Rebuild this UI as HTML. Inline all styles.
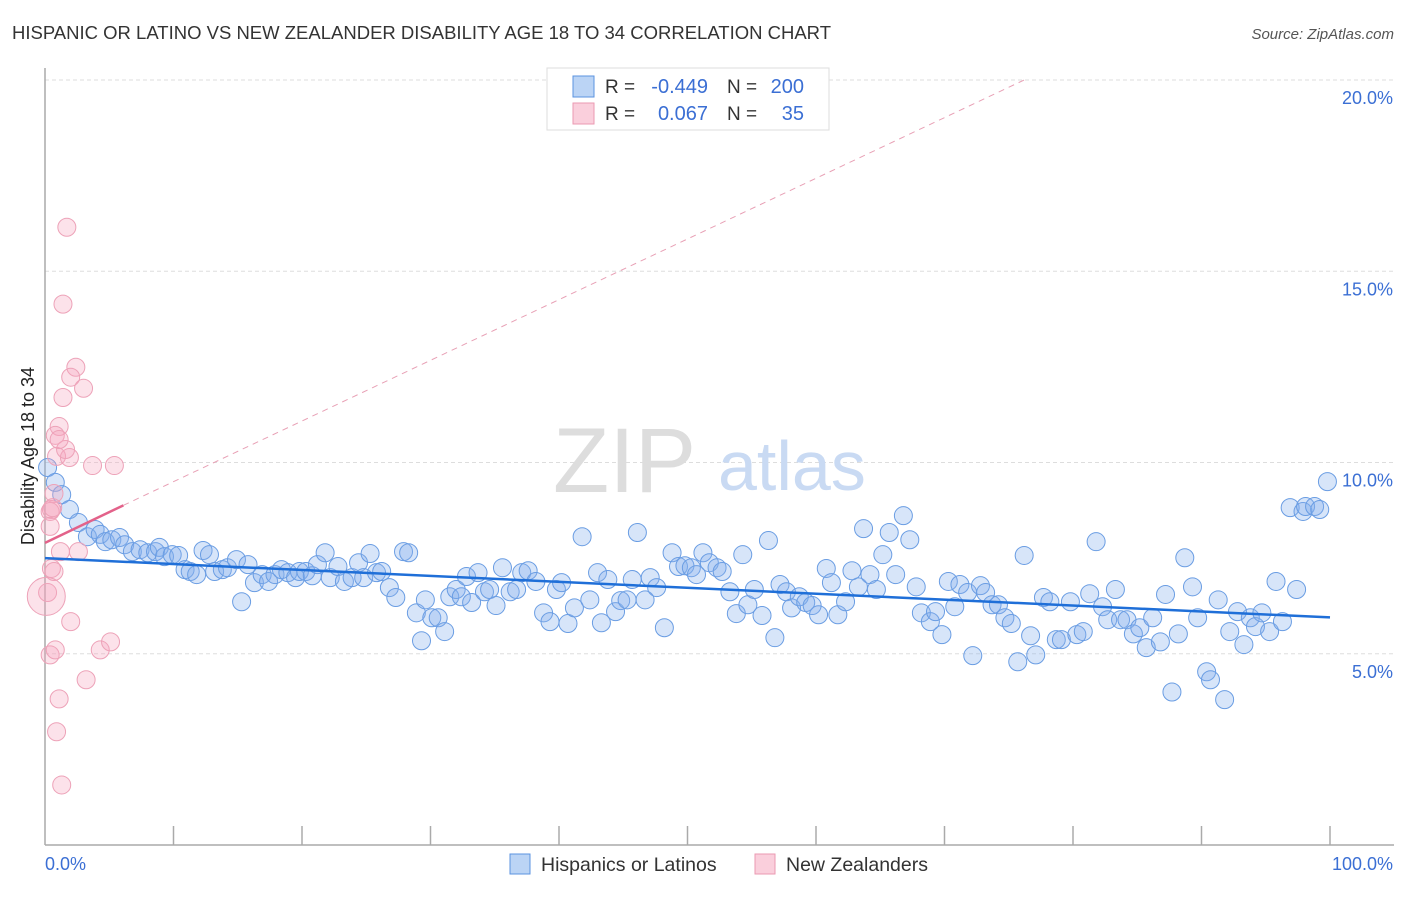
<!DOCTYPE html>
<html><head><meta charset="utf-8"><style>
body{margin:0;background:#fff;font-family:"Liberation Sans",sans-serif;}
svg text{font-family:"Liberation Sans",sans-serif;}
</style></head><body>
<svg width="1406" height="892" viewBox="0 0 1406 892" xmlns="http://www.w3.org/2000/svg">
<g id="root"></g>
</svg>
<script>
const blueX=[0.2,0.8,1.3,1.9,2.6,3.3,3.9,4.3,4.7,5.2,5.8,6.2,6.8,7.4,8.0,8.6,8.9,9.3,9.9,10.4,10.9,11.3,11.8,12.3,12.8,13.2,13.8,14.2,14.9,15.3,15.8,16.3,16.9,17.4,17.9,18.4,18.9,19.5,19.8,20.3,20.8,21.2,21.8,22.2,22.8,23.3,23.9,24.4,24.8,25.3,25.8,26.2,26.8,27.3,27.9,28.3,28.9,29.3,29.6,30.1,30.6,31.1,31.5,32.0,32.4,32.8,33.2,33.7,34.2,34.6,35.1,35.6,36.2,36.7,37.1,37.6,38.2,38.8,39.3,39.8,40.2,40.7,41.2,41.8,42.4,43.0,43.3,43.8,44.4,44.8,45.3,45.7,46.1,46.7,47.1,47.6,48.2,48.8,49.3,49.8,50.3,50.7,51.2,51.7,52.3,52.7,53.3,53.8,54.3,54.7,55.2,55.8,56.3,56.8,57.2,57.7,58.1,58.7,59.2,59.7,60.2,60.8,61.2,61.7,62.3,62.8,63.3,63.7,64.2,64.7,65.2,65.7,66.2,66.8,67.3,67.8,68.2,68.9,69.3,69.8,70.3,70.8,71.2,71.8,72.2,72.8,73.2,73.7,74.2,74.7,75.2,75.7,76.2,76.7,77.1,77.7,78.2,78.7,79.1,79.8,80.3,80.8,81.3,81.8,82.3,82.7,83.3,83.7,84.2,84.7,85.2,85.7,86.2,86.8,87.2,87.7,88.2,88.7,89.3,89.7,90.4,90.7,91.3,91.8,92.2,92.8,93.3,93.8,94.2,94.7,95.3,95.8,96.3,96.9,97.4,97.9,98.1,98.8,99.2,99.8];
const blueY=[9.87,9.48,9.16,8.77,8.43,8.06,8.25,8.12,7.93,7.98,8.04,7.85,7.67,7.72,7.64,7.67,7.78,7.54,7.59,7.57,7.2,7.15,7.07,7.7,7.59,7.15,7.2,7.25,7.46,6.36,7.33,6.86,7.07,6.89,7.07,7.2,7.12,6.99,7.15,7.15,7.04,7.33,7.64,6.99,7.28,6.89,6.99,7.38,6.99,7.62,7.12,7.15,6.73,6.47,7.67,7.64,6.07,5.34,6.41,5.94,5.94,5.58,6.49,6.68,6.49,7.02,6.34,7.12,6.62,6.68,6.26,7.25,6.62,6.68,7.12,7.17,6.89,6.07,5.84,6.68,6.86,5.79,6.2,8.06,6.41,7.12,5.81,6.94,6.1,6.39,6.41,6.94,8.17,6.41,6.99,6.73,5.68,7.64,7.28,7.3,7.25,7.07,7.64,7.38,7.25,7.15,6.62,6.05,7.59,6.28,6.68,6.0,7.96,5.42,6.81,6.62,6.2,6.49,6.34,6.26,6.02,7.23,6.86,6.02,6.36,7.17,6.75,8.27,7.07,6.68,7.59,8.17,7.07,8.61,7.98,6.75,6.07,5.84,6.1,5.5,6.89,6.23,6.81,6.6,4.95,6.78,6.6,6.28,6.28,5.94,5.79,4.79,7.57,5.47,4.97,6.47,6.36,5.37,5.37,6.36,5.5,5.58,6.57,7.93,6.23,5.89,6.68,5.89,5.89,5.52,5.68,5.16,5.94,5.31,6.55,4.0,5.52,7.51,6.75,5.94,4.53,4.32,6.41,3.8,5.58,6.1,5.24,5.94,5.71,6.07,5.58,6.89,5.84,8.82,6.68,8.72,8.85,8.85,8.77,9.5];
const pinkX=[1.7,1.4,2.4,2.0,3.0,1.4,1.1,0.8,0.9,1.9,3.7,5.4,0.7,0.5,0.4,0.4,1.2,2.6,0.5,0.7,0.2,2.0,0.4,0.8,4.3,5.1,3.2,1.1,0.9,1.3,1.6,1.1,0.6,0.1];
const pinkY=[16.15,14.14,12.49,12.23,11.94,11.7,10.94,10.71,10.16,10.13,9.92,9.92,9.19,8.77,8.72,8.33,7.67,7.67,7.23,7.15,6.6,5.84,4.97,5.1,5.1,5.31,4.32,3.82,2.96,1.57,10.34,10.6,8.82,6.5];
const pinkR=[9,9,9,9,9,9,9,9,9,9,9,9,9,9,9,9,9,9,9,9,9,9,9,9,9,9,9,9,9,9,9,9,9,19];
const yTicks=[5,10,15,20];
const yTickLabels=["5.0%","10.0%","15.0%","20.0%"];
const xTicks=[0,10,20,30,40,50,60,70,80,90,100];
const blueTrend=[7.5,5.95];
const pinkTrend=[7.9,8.88,20.0];
const pinkTrendX=[0,6.1,76.2];

const L=45,R=1330,B=845,T=80;
const sx=v=>L+(R-L)*v/100;
const sy=v=>B-(B-T)*v/20;
const NS="http://www.w3.org/2000/svg";
const root=document.getElementById('root');
function mk(tag,attrs,parent){const e=document.createElementNS(NS,tag);for(const k in attrs)e.setAttribute(k,attrs[k]);(parent||root).appendChild(e);return e;}

let t=mk('text',{x:12,y:39,'font-size':18.5,fill:'#333'});t.textContent="HISPANIC OR LATINO VS NEW ZEALANDER DISABILITY AGE 18 TO 34 CORRELATION CHART";


t=mk('text',{x:1394,y:39,'font-size':15,fill:'#555','text-anchor':'end','font-style':'italic'});t.textContent="Source: ZipAtlas.com";



yTicks.forEach((v,i)=>{
 const g=mk('line',{x1:L,x2:1394,y1:sy(v),y2:sy(v),stroke:'#ddd','stroke-dasharray':'4 3'});
 
 
 const l=mk('text',{x:1393,y:sy(v)+24,'font-size':18,fill:'#3b6fd4','text-anchor':'end'});l.textContent=yTickLabels[i];
 
 
});
let a=mk('line',{x1:L,x2:L,y1:68,y2:B,stroke:'#aaa','stroke-width':1.5});


a=mk('line',{x1:L,x2:1394,y1:B,y2:B,stroke:'#aaa','stroke-width':1.5});


xTicks.slice(1).forEach(v=>{const k=mk('line',{x1:sx(v),x2:sx(v),y1:826,y2:B,stroke:'#aaa','stroke-width':1.5});
 
 });
t=mk('text',{x:45,y:870,'font-size':18,fill:'#3b6fd4'});t.textContent="0.0%";


t=mk('text',{x:1393,y:870,'font-size':18,fill:'#3b6fd4','text-anchor':'end'});t.textContent="100.0%";


t=mk('text',{x:0,y:0,'font-size':18,fill:'#222','text-anchor':'middle',transform:'translate(34,456) rotate(-90)'});t.textContent="Disability Age 18 to 34";



t=mk('text',{x:553,y:492,'font-size':92,fill:'#ddd','font-family':'Liberation Serif'});t.textContent="ZIP";


t=mk('text',{x:718,y:490,'font-size':70,fill:'#c9daf3'});t.textContent="atlas";



let pl=mk('line',{x1:sx(pinkTrendX[1]),y1:sy(pinkTrend[1]),x2:sx(pinkTrendX[2]),y2:sy(pinkTrend[2]),stroke:'#e8a0b5','stroke-dasharray':'6 5','stroke-width':1});



blueX.forEach((x,i)=>{const c=mk('circle',{cx:sx(x),cy:sy(blueY[i]),r:9,fill:'rgba(130,175,235,0.32)',stroke:'#6a9de3','stroke-width':1});
 
 });
pinkX.forEach((x,i)=>{const c=mk('circle',{cx:sx(x),cy:sy(pinkY[i]),r:pinkR[i],fill:'rgba(245,165,190,0.32)',stroke:'#eda2b8','stroke-width':1});
 
 });

let bl=mk('line',{x1:sx(0),y1:sy(blueTrend[0]),x2:sx(100),y2:sy(blueTrend[1]),stroke:'#1f6fd8','stroke-width':2.5});


pl=mk('line',{x1:sx(pinkTrendX[0]),y1:sy(pinkTrend[0]),x2:sx(pinkTrendX[1]),y2:sy(pinkTrend[1]),stroke:'#e3628a','stroke-width':2.5});



let lg=mk('g',{});


mk('rect',{x:547,y:68,width:282,height:62,fill:'#fff',stroke:'#ddd'},lg);
[[86,'rgba(120,170,235,0.5)','#5b93e0','-0.449','200'],[113,'rgba(245,160,185,0.5)','#eb9ab2','0.067','35']].forEach((r,i)=>{
 const s=mk('rect',{x:573,y:r[0]-10,width:21,height:21,fill:r[1],stroke:r[2]},lg);
 
 
 let e=mk('text',{x:605,y:r[0]+7,'font-size':19,fill:'#333'},lg);e.textContent="R =";
 e=mk('text',{x:708,y:r[0]+7,'font-size':20,fill:'#3b6fd4','text-anchor':'end'},lg);e.textContent=r[3];
 
 
 e=mk('text',{x:727,y:r[0]+7,'font-size':19,fill:'#333'},lg);e.textContent="N =";
 e=mk('text',{x:804,y:r[0]+7,'font-size':20,fill:'#3b6fd4','text-anchor':'end'},lg);e.textContent=r[4];
 
 
});

[[510,'rgba(120,170,235,0.5)','#5b93e0','Hispanics or Latinos'],[755,'rgba(245,160,185,0.5)','#eb9ab2','New Zealanders']].forEach(r=>{
 const s=mk('rect',{x:r[0],y:854,width:20,height:20,fill:r[1],stroke:r[2]});
 
 
 const e=mk('text',{x:r[0]+31,y:871,'font-size':19.5,fill:'#333'});e.textContent=r[3];
 
 
});
</script>
</body></html>
